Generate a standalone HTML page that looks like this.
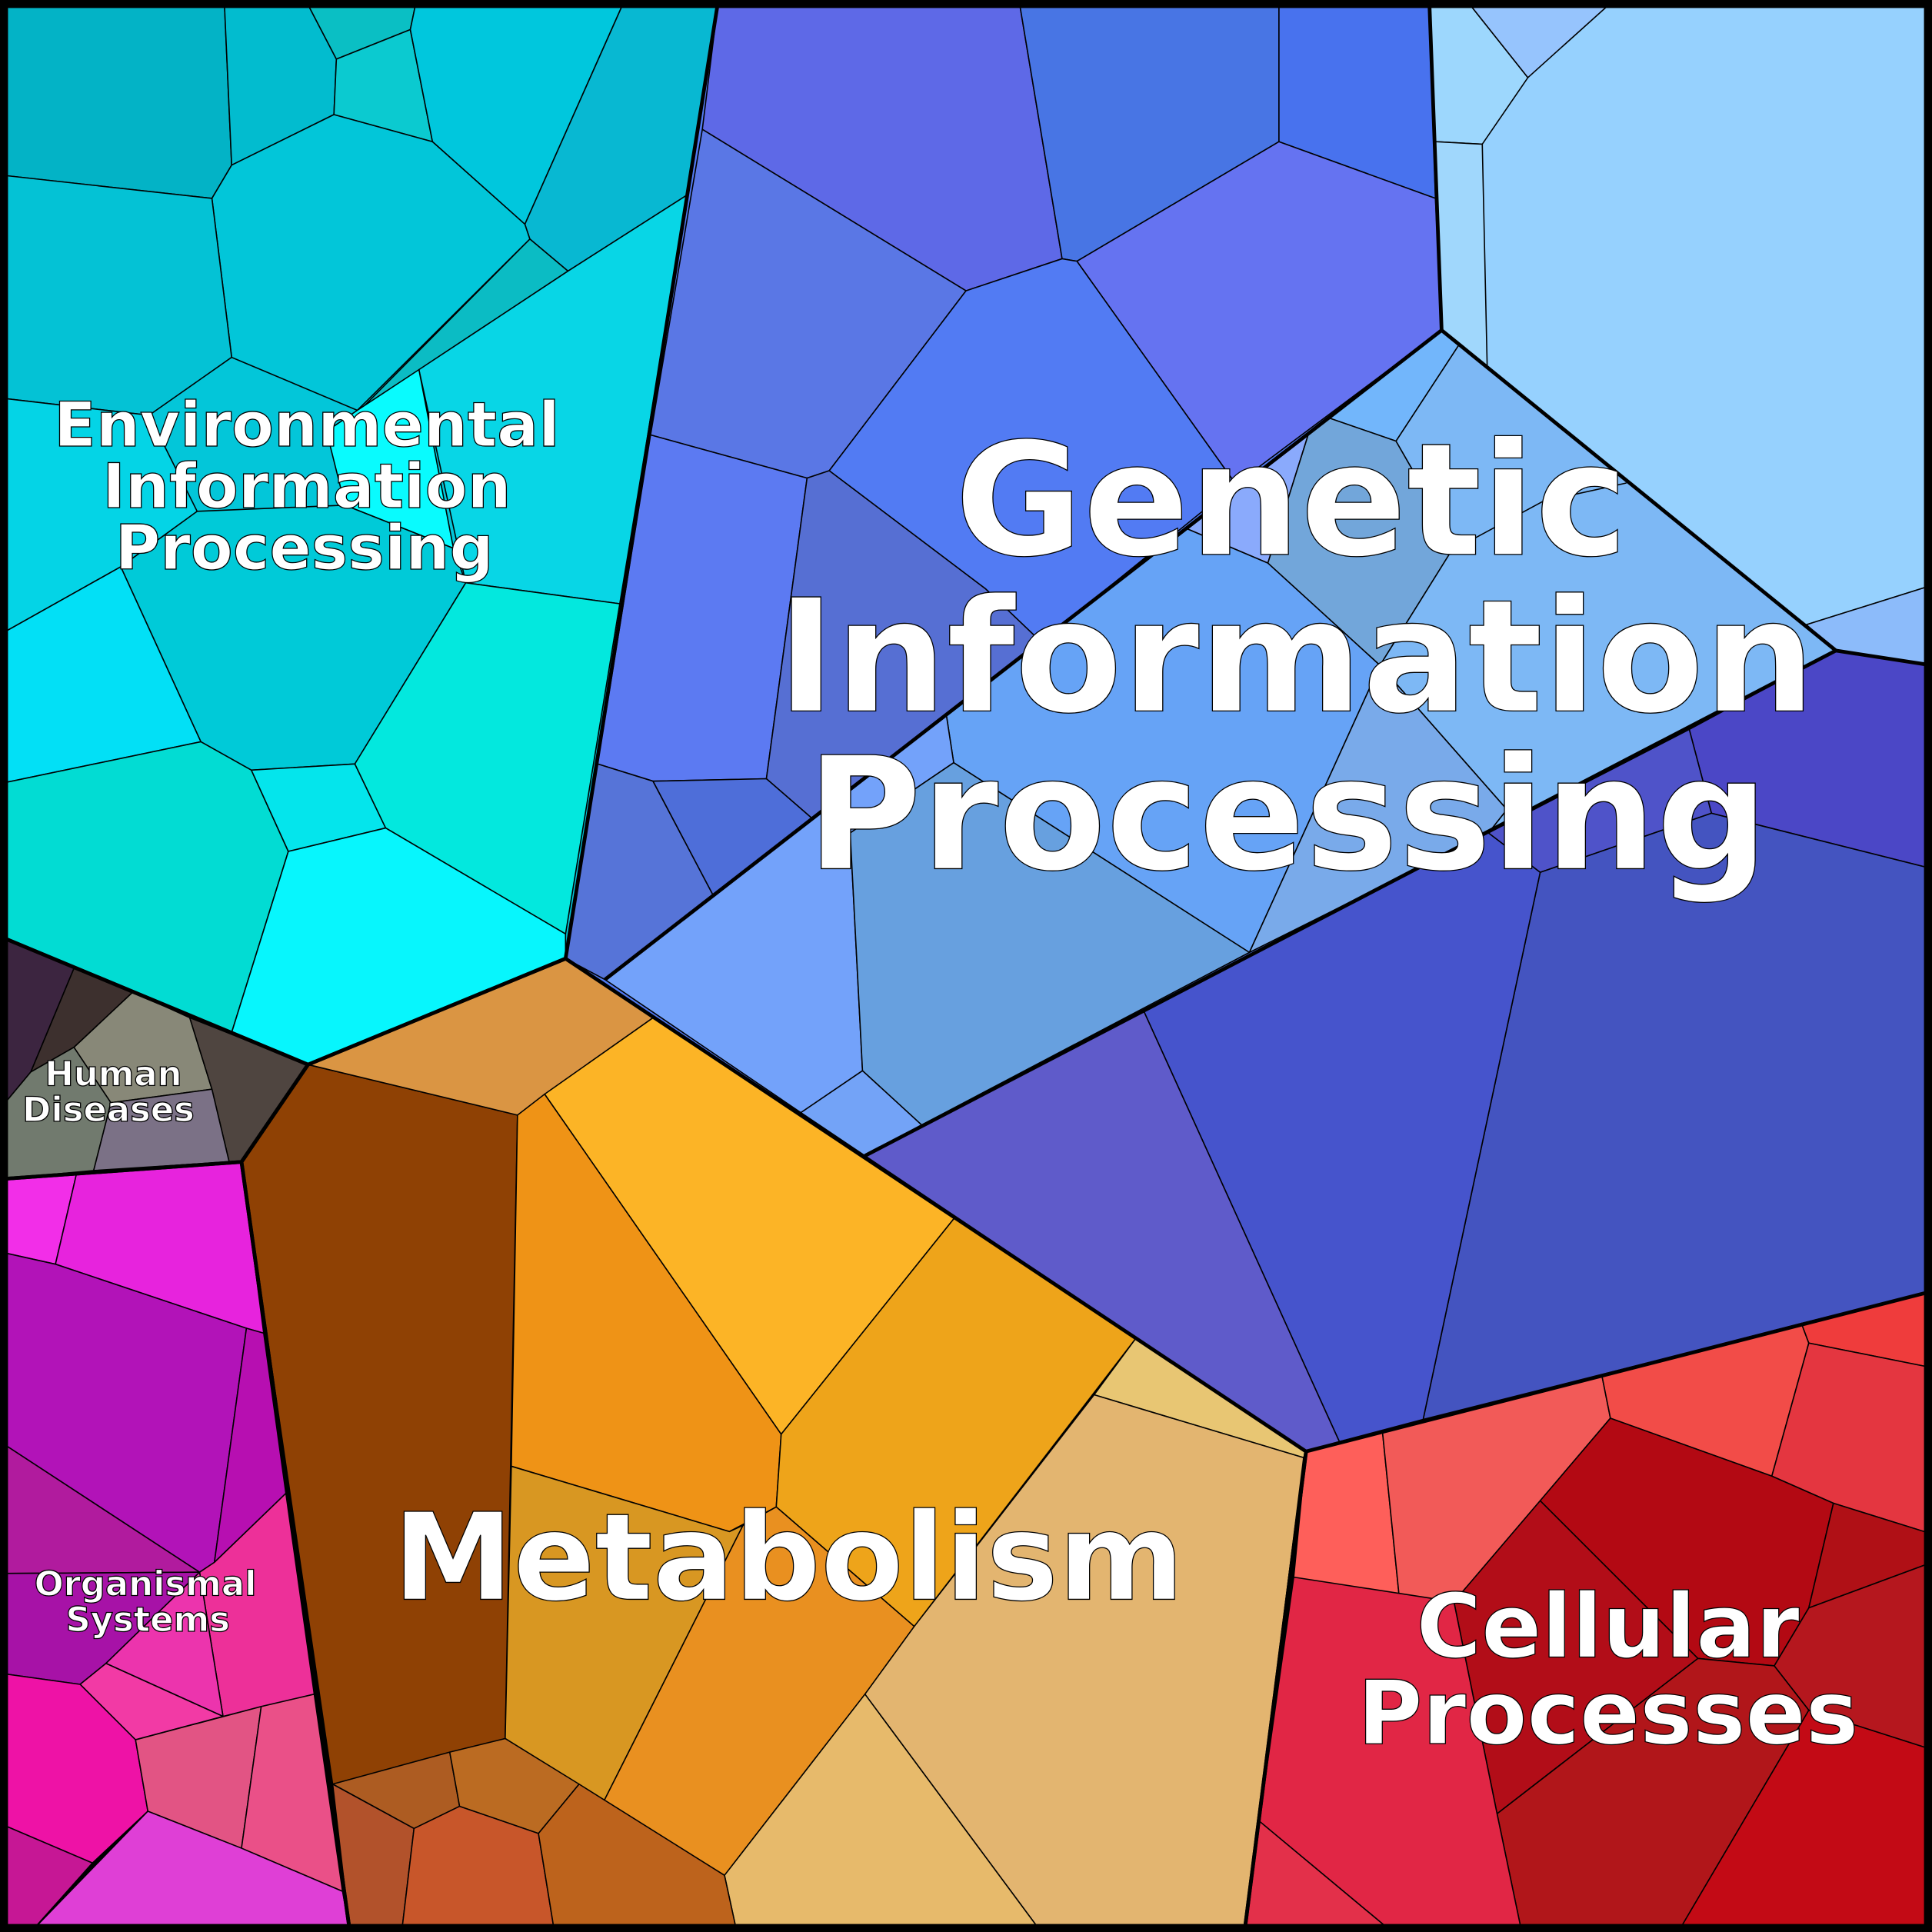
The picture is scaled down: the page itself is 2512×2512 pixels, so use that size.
<!DOCTYPE html>
<html><head><meta charset="utf-8"><style>html,body{margin:0;padding:0;background:#000}svg{display:block}</style></head><body>
<svg width="2512" height="2512" viewBox="0 0 1568 1568" xmlns="http://www.w3.org/2000/svg">
<g stroke="#000" stroke-width="1" stroke-linejoin="round">
<!-- Environmental -->
<polygon fill="#03c6d9" points="0,0 583,0 459,778 250,864 0,760"/>
<polygon fill="#03b3c6" points="0,0 182,0 188,134 172,161 0,142"/>
<polygon fill="#02bccf" points="182,0 248,0 273,48 271,93 188,134"/>
<polygon fill="#0abfc4" points="248,0 338,0 333,24 273,48"/>
<polygon fill="#0bcad0" points="273,48 333,24 351,115 271,93"/>
<polygon fill="#00c7dd" points="338,0 507,0 426,182 351,115 333,24"/>
<polygon fill="#08b8d2" points="507,0 583,0 558,158 461,220 430,194 426,182"/>
<polygon fill="#0bbcc4" points="430,194 461,220 295,330"/>
<polygon fill="#02c6d9" points="172,161 188,134 271,93 351,115 426,182 430,194 290,333 188,290"/>
<polygon fill="#04c2d5" points="0,142 172,161 188,290 121,337 0,323"/>
<polygon fill="#08d6e6" points="558,158 461,220 340,300 378,473 503,490"/>
<polygon fill="#09fbfe" points="290,333 340,300 368,445 280,410 265,350"/>
<polygon fill="#04d4e6" points="0,323 121,337 160,415 98,460 0,515"/>
<polygon fill="#00cad8" points="98,460 160,415 280,410 368,445 378,473 288,620 204,625 163,602"/>
<polygon fill="#02e0f6" points="0,515 98,460 163,602 0,636"/>
<polygon fill="#02dcd3" points="0,636 163,602 204,625 234,691 188,838 0,760"/>
<polygon fill="#04e5ec" points="204,625 288,620 313,672 234,691"/>
<polygon fill="#03e8de" points="378,473 503,490 459,758 313,672 288,620"/>
<polygon fill="#07f6fd" points="234,691 313,672 459,758 459,778 250,864 188,838"/>
<!-- Human diseases -->
<polygon fill="#3c2540" points="0,760 60,786 25,870 0,900"/>
<polygon fill="#3d302e" points="60,786 108,805 60,850 25,870"/>
<polygon fill="#888878" points="108,805 154,826 172,884 90,895 60,850"/>
<polygon fill="#4f4540" points="154,826 250,864 196,943 186,943 172,884"/>
<polygon fill="#717a6e" points="0,900 25,870 60,850 90,895 76,950 0,957"/>
<polygon fill="#7b7186" points="90,895 172,884 186,943 76,950"/>
<!-- Organismal -->
<polygon fill="#f22ee8" points="0,957 62,953 45,1026 0,1016"/>
<polygon fill="#e723dd" points="62,953 196,943 214,1082 200,1078 45,1026"/>
<polygon fill="#b213b8" points="0,1016 45,1026 200,1078 174,1268 162,1276 0,1170"/>
<polygon fill="#b70fb1" points="200,1078 214,1082 232,1212 174,1268"/>
<polygon fill="#b11b9e" points="0,1170 162,1276 0,1277"/>
<polygon fill="#a712a7" points="0,1277 162,1276 86,1350 65,1367 0,1358"/>
<polygon fill="#ed3099" points="162,1276 174,1268 232,1212 255,1375 181,1393"/>
<polygon fill="#ec34ad" points="86,1350 162,1276 181,1393"/>
<polygon fill="#f23aa5" points="65,1367 86,1350 181,1393 110,1412"/>
<polygon fill="#ee12a6" points="0,1358 65,1367 110,1412 120,1470 75,1512 0,1480"/>
<polygon fill="#e25484" points="110,1412 212,1385 196,1500 120,1470"/>
<polygon fill="#ea5088" points="212,1385 255,1375 278,1535 196,1500"/>
<polygon fill="#c61795" points="0,1480 75,1512 25,1568 0,1568"/>
<polygon fill="#df3fd6" points="120,1470 196,1500 278,1535 284,1568 25,1568"/>
<!-- Metabolism -->
<polygon fill="#8f4104" points="196,943 250,864 420,905 410,1411 270,1448"/>
<polygon fill="#da9543" points="250,864 459,778 530,826 420,905"/>
<polygon fill="#fcb426" points="442,888 530,826 775,988 634,1164"/>
<polygon fill="#ef9316" points="420,905 442,888 634,1164 630,1223 592,1243 415,1190"/>
<polygon fill="#eea41a" points="634,1164 775,988 922,1086 742,1320 630,1223"/>
<polygon fill="#d89722" points="415,1190 592,1243 603,1238 490,1462 410,1411"/>
<polygon fill="#e99020" points="603,1238 630,1223 742,1320 702,1375 588,1522 490,1462"/>
<polygon fill="#e8c673" points="922,1086 1060,1178 1058,1183 888,1132"/>
<polygon fill="#e3b570" points="888,1132 1058,1183 1010,1568 845,1568 702,1375 742,1320"/>
<polygon fill="#e7ba6b" points="702,1375 845,1568 598,1568 588,1522"/>
<polygon fill="#ad5c22" points="270,1448 365,1422 373,1466 336,1484"/>
<polygon fill="#bb6b22" points="365,1422 410,1411 470,1448 437,1488 373,1466"/>
<polygon fill="#b2522b" points="270,1448 336,1484 326,1568 284,1568"/>
<polygon fill="#c8562a" points="336,1484 373,1466 437,1488 450,1568 326,1568"/>
<polygon fill="#bd631c" points="437,1488 470,1448 588,1522 598,1568 450,1568"/>
<!-- Genetic -->
<polygon fill="#527bf3" points="583,0 1568,0 1568,1048 1060,1178 459,778"/>
<polygon fill="#5e69e7" points="583,0 827,0 862,210 784,236 570,105"/>
<polygon fill="#4875e4" points="827,0 1038,0 1038,115 874,212 862,210"/>
<polygon fill="#4872ee" points="1038,0 1160,0 1165,161 1038,115"/>
<polygon fill="#5a77e5" points="570,105 784,236 673,382 655,388 528,353"/>
<polygon fill="#6573f1" points="874,212 1038,115 1165,161 1170,268 1003,393"/>
<polygon fill="#527bf3" points="784,236 862,210 874,212 1003,393 845,521 800,478 673,382"/>
<polygon fill="#5c7af2" points="528,353 655,388 622,632 530,634 485,620"/>
<polygon fill="#566fd3" points="655,388 673,382 800,478 845,521 660,665 622,632"/>
<polygon fill="#5674d8" points="485,620 530,634 579,727 491,795 459,778"/>
<polygon fill="#4e6ed9" points="530,634 622,632 660,665 579,727"/>
<!-- light region between thick lines -->
<polygon fill="#72b6fb" points="1078,339 1170,268 1184,280 1133,358"/>
<polygon fill="#8aaafc" points="1062,352 1029,457 963,429"/>
<polygon fill="#72a6da" points="1078,339 1133,358 1156,398 1178,447 1120,540 1029,457 1062,352"/>
<polygon fill="#7db8f5" points="1184,280 1490,528 1208,676 1223,657 1120,540 1178,447 1156,398 1133,358"/>
<polyline fill="none" points="1178,447 1252,407 1320,392"/>
<polygon fill="#66a3f6" points="963,429 1029,457 1120,540 1014,773 774,619 768,580"/>
<polygon fill="#79aaea" points="1120,540 1223,657 1208,676 1014,773"/>
<polygon fill="#73a2fa" points="491,795 768,580 774,619 690,676 700,869 650,903"/>
<polygon fill="#67a0df" points="690,676 774,619 1014,773 748,913 700,869"/>
<polygon fill="#73a3f7" points="650,903 700,869 748,913 702,938"/>
<!-- top right -->
<polygon fill="#96d1fe" points="1160,0 1568,0 1568,475 1466,507 1490,528 1170,268"/>
<polygon fill="#9dd7fd" points="1160,0 1190,0 1240,63 1203,117 1165,115"/>
<polygon fill="#96c4fd" points="1190,0 1310,0 1240,63"/>
<polygon fill="#a0d7fc" points="1165,115 1203,117 1207,298 1170,268"/>
<polygon fill="#8cbbfa" points="1466,507 1568,475 1568,540 1490,528"/>
<!-- below lower thick -->
<polygon fill="#4b47c6" points="1371,592 1490,528 1568,540 1568,705 1389,660"/>
<polygon fill="#4f53c9" points="1208,676 1371,592 1389,660 1250,708"/>
<polygon fill="#4454c0" points="1389,660 1568,705 1568,1048 1155,1152 1250,708"/>
<polygon fill="#4654cc" points="1208,676 1250,708 1155,1152 1087,1170 928,820"/>
<polygon fill="#5f5bca" points="702,938 928,820 1087,1170 1060,1178"/>
<!-- Cellular -->
<polygon fill="#fe5f5a" points="1060,1178 1122,1162 1136,1300 1050,1280"/>
<polygon fill="#f25a58" points="1122,1162 1300,1116 1307,1151 1250,1218 1180,1300 1136,1300"/>
<polygon fill="#f24c48" points="1300,1116 1462,1074 1468,1090 1438,1198 1307,1151"/>
<polygon fill="#ef3c3c" points="1462,1074 1568,1048 1568,1110 1468,1090"/>
<polygon fill="#e43640" points="1468,1090 1568,1110 1568,1245 1488,1220 1438,1198"/>
<polygon fill="#b30913" points="1307,1151 1438,1198 1488,1220 1468,1305 1440,1352 1378,1346 1250,1218"/>
<polygon fill="#b20d18" points="1180,1300 1250,1218 1378,1346 1215,1472"/>
<polygon fill="#b01016" points="1488,1220 1568,1245 1568,1268 1468,1305"/>
<polygon fill="#b5171e" points="1468,1305 1568,1268 1568,1420 1468,1388 1440,1352"/>
<polygon fill="#b1161a" points="1378,1346 1440,1352 1468,1388 1362,1568 1235,1568 1215,1472"/>
<polygon fill="#c30a15" points="1468,1388 1568,1420 1568,1568 1362,1568"/>
<polygon fill="#e12645" points="1050,1280 1180,1300 1215,1472 1235,1568 1130,1568 1022,1478"/>
<polygon fill="#e3304a" points="1022,1478 1130,1568 1010,1568"/>
</g>
<g fill="none" stroke="#000" stroke-width="3" stroke-linejoin="round">
<polygon points="0,0 583,0 459,778 250,864 0,760"/>
<polygon points="0,760 250,864 196,943 0,957"/>
<polygon points="0,957 196,943 284,1568 0,1568"/>
<polygon points="196,943 250,864 459,778 1060,1178 1010,1568 284,1568"/>
<polygon points="1060,1178 1568,1048 1568,1568 1010,1568"/>
<polyline points="1160,0 1170,268 1490,528 1568,540"/>
<polyline points="1170,268 491,795"/>
<polyline points="1490,528 702,938"/>
</g>
<rect x="3" y="3" width="1562" height="1562" fill="none" stroke="#000" stroke-width="7"/>
<g font-family="'DejaVu Sans','Liberation Sans',sans-serif" font-weight="bold" fill="#fff" stroke="#000" stroke-width="0.8" text-anchor="middle">
<text x="1048" y="450" font-size="127">Genetic</text>
<text x="1052" y="577" font-size="127">Information</text>
<text x="1045" y="705" font-size="127">Processing</text>
<text x="640" y="1298" font-size="98">Metabolism</text>
<text x="1305" y="1345" font-size="72">Cellular</text>
<text x="1305" y="1415" font-size="72">Processes</text>
<text x="249" y="362" font-size="50">Environmental</text>
<text x="249" y="412" font-size="50">Information</text>
<text x="247" y="462" font-size="50">Processing</text>
<text x="92" y="881" font-size="28">Human</text>
<text x="88" y="910" font-size="28">Diseases</text>
<text x="118" y="1295" font-size="28">Organismal</text>
<text x="120" y="1324" font-size="28">Systems</text>
</g>
</svg>
</body></html>
